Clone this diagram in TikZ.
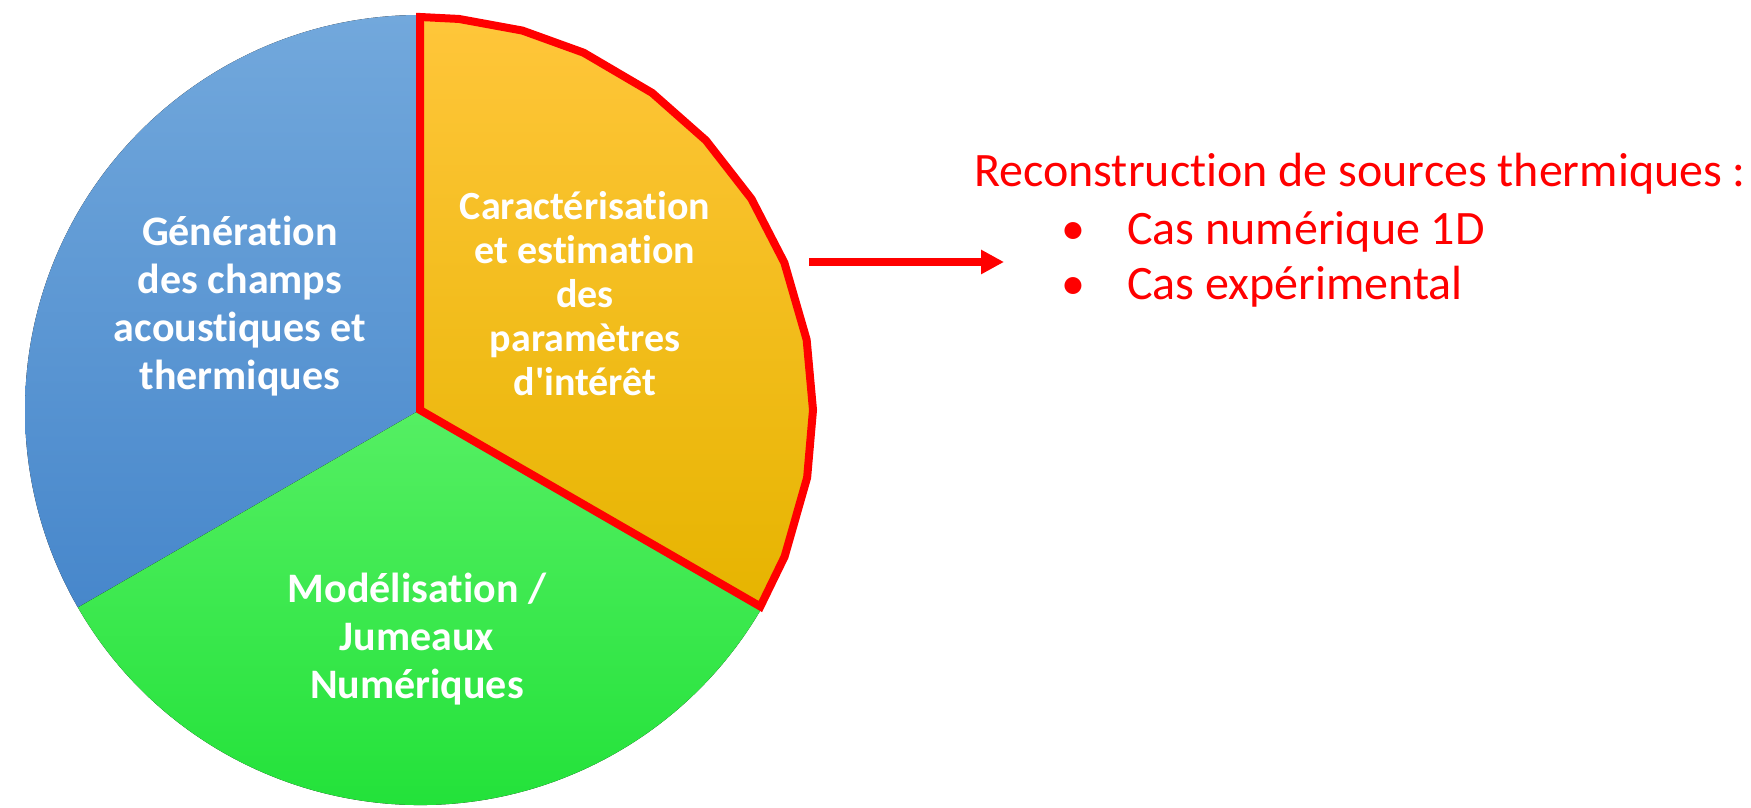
\documentclass[tikz,border=0pt]{standalone}
\usepackage{fontspec}
\setmainfont{Carlito}[Ligatures={NoCommon}]
\usetikzlibrary{arrows.meta, positioning}
\definecolor{blueTop}{HTML}{72A8DC}
\definecolor{blueBot}{HTML}{4787CB}
\definecolor{orTop}{HTML}{FFC63A}
\definecolor{orBot}{HTML}{E6B400}
\definecolor{grTop}{HTML}{55EF63}
\definecolor{grBot}{HTML}{1CE034}
\definecolor{redline}{HTML}{FF0000}
\tikzset{>/.tip={Triangle[length=23pt,width=23pt]}}
\tikzset{lbl/.style={text=white, align=center, inner sep=0pt, font=\bfseries\fontsize{42}{48}\selectfont}}
\tikzset{txt/.style={text=redline, inner sep=0pt, font=\fontsize{48}{56}\selectfont}}

\begin{document}
\begin{tikzpicture}[x=1pt, y=1pt]
\useasboundingbox (0,0) rectangle (1751,808);
\begin{scope}[shift={(420,398)}]
\fill[top color=blueTop, bottom color=blueBot] (0,0) -- (90:395) arc (90:210:395) -- cycle;
\fill[top color=grTop, bottom color=grBot] (0,0) -- (210:395) arc (210:330:395) -- cycle;
\fill[top color=orTop, bottom color=orBot] (0,0) foreach \a in {90,84.3,74.9,65.4,53.8,43.3,32.5,22,10.3,0,-9.9,-21.9,-30} {-- (\a:393)} -- cycle;
\draw[redline, line width=8pt] (0,0) foreach \a in {90,84.3,74.9,65.4,53.8,43.3,32.5,22,10.3,0,-9.9,-21.9,-30} {-- (\a:393)} -- cycle;
\end{scope}
\draw node(gen) at (240,502) [lbl] {Génération\\des champs\\acoustiques et\\thermiques};
\draw node(car) at (585,514) [lbl, font=\bfseries\fontsize{40}{44}\selectfont] {Caractérisation\\et estimation\\des\\paramètres\\d\textquotesingle intérêt};
\draw node(mod) at (417,169) [lbl] {Modélisation /\\Jumeaux\\Numériques};
\coordinate (arrS) at (809,546);
\coordinate (arrE) at (1004,546);
\draw[->, redline, line width=8pt] (arrS) -- (arrE);
\draw node(recon) at (974,621) [txt, anchor=base west] {Reconstruction de sources thermiques :};
\draw node(cas1) at (1127,563) [txt, anchor=base west] {Cas numérique 1D};
\draw node(cas2) at (1127,508) [txt, anchor=base west] {Cas expérimental};
\draw node(b1) at (1073,563) [txt, anchor=base] {•};
\draw node(b2) at (1073,508) [txt, anchor=base] {•};
\end{tikzpicture}
\end{document}
